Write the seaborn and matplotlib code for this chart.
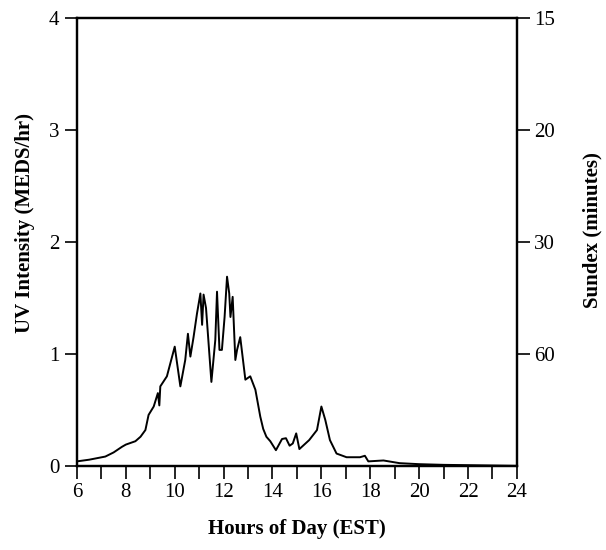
import numpy as np
import pandas as pd
import matplotlib
matplotlib.use("Agg")
import matplotlib.pyplot as plt
import seaborn as sns

# hora del dia (EST) y la intensidad UV
hours = [6.0, 6.5, 7.16, 7.5, 7.84, 8.0, 8.39, 8.6, 8.8, 8.93, 9.14, 9.31, 9.37,
         9.41, 9.68, 10.0, 10.23, 10.43, 10.54, 10.64, 10.77, 10.91, 11.05,
         11.12, 11.18, 11.28, 11.5, 11.66, 11.73, 11.83, 11.93, 12.04, 12.14,
         12.23, 12.28, 12.37, 12.48, 12.55, 12.68, 12.89, 13.09, 13.3, 13.5,
         13.62, 13.75, 13.91, 14.14, 14.39, 14.55, 14.7, 14.83, 14.97, 15.1,
         15.3, 15.5, 15.82, 16.0, 16.16, 16.35, 16.62, 17.03, 17.58, 17.78,
         17.92, 18.54, 19.2, 20.0, 21.0, 23.0, 24.0]
uv = [0.04, 0.055, 0.083, 0.12, 0.17, 0.19, 0.22, 0.26, 0.32, 0.455, 0.53,
      0.65, 0.54, 0.71, 0.80, 1.065, 0.71, 0.946, 1.18, 0.976, 1.15, 1.36,
      1.54, 1.26, 1.53, 1.41, 0.75, 1.125, 1.556, 1.036, 1.036, 1.33, 1.69,
      1.54, 1.33, 1.51, 0.946, 1.036, 1.15, 0.77, 0.80, 0.68, 0.44, 0.33,
      0.26, 0.22, 0.14, 0.24, 0.247, 0.18, 0.20, 0.29, 0.15, 0.19, 0.23,
      0.32, 0.53, 0.41, 0.23, 0.11, 0.077, 0.077, 0.09, 0.04, 0.048, 0.024,
      0.015, 0.009, 0.003, 0.0]

# eje derecho: Sundex (minutos)
sundex_ticks = [15, 20, 30, 60]
sundex_pos = [60 / s for s in sundex_ticks]

df = pd.DataFrame({"hora": hours, "uv": uv})

sns.set_style("ticks")
plt.rcParams['font.family'] = ['Liberation Serif', 'DejaVu Serif']
plt.rcParams['text.color'] = 'black'
plt.rcParams['axes.labelcolor'] = 'black'

fig = plt.figure(figsize=(6.06, 5.5), dpi=100)
ax = fig.add_axes([0.127, 0.153, 0.726, 0.814])
sns.lineplot(data=df, x="hora", y="uv", color="black", linewidth=1.4, ax=ax)

ax.set_xlim(6, 24)
ax.set_ylim(0, 4)
ax.set_xticks(range(6, 25, 2))
ax.set_xticks(range(7, 24, 2), minor=True)
ax.set_yticks(range(0, 5))
ax.tick_params(axis="both", which="both", direction="out", length=9,
               width=1.2, colors="black", labelsize=15)
ax.set_xlabel("Hours of Day (EST)", fontsize=15, fontweight="bold", labelpad=12)
ax.set_ylabel("UV Intensity (MEDS/hr)", fontsize=15, fontweight="bold", labelpad=10)
ax.yaxis.label.set_y(0.542)

ax2 = ax.twinx()
ax2.set_ylim(0, 4)
ax2.set_yticks(sundex_pos)
ax2.set_yticklabels([str(s) for s in sundex_ticks])
ax2.tick_params(axis="y", direction="out", length=9, width=1.2,
                colors="black", labelsize=15)
ax2.set_ylabel("Sundex (minutes)", fontsize=15, fontweight="bold", labelpad=20)
ax2.yaxis.label.set_y(0.527)

for a in (ax, ax2):
    for s in a.spines.values():
        s.set_visible(True)
        s.set_linewidth(1.6)
        s.set_color("black")

fig.savefig("out.png", dpi=100)
